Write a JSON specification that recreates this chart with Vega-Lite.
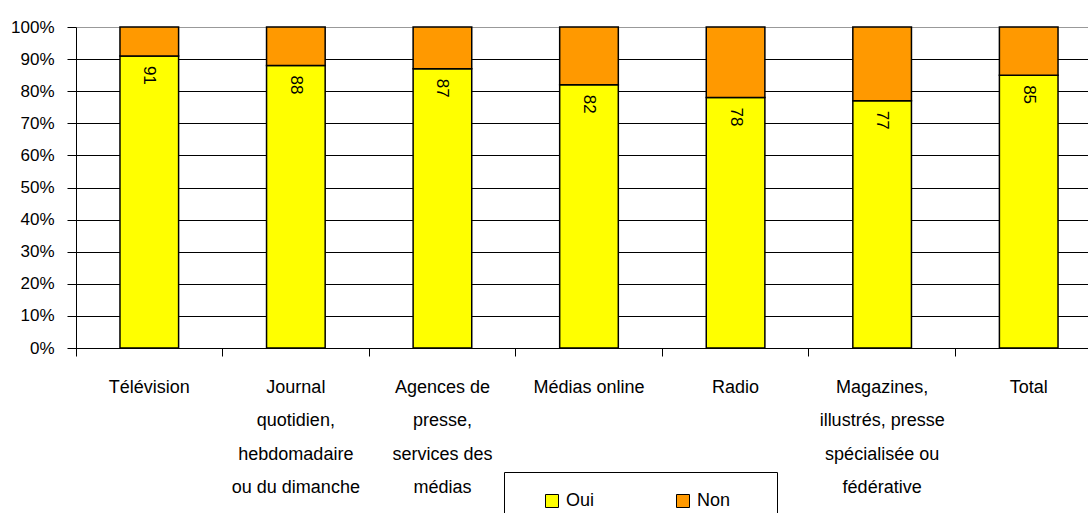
{
  "$schema": "https://vega.github.io/schema/vega-lite/v6.json",
  "width": 1011,
  "height": 321,
  "autosize": {"type": "none"},
  "padding": {"left": 76, "top": 27, "right": 1, "bottom": 165},
  "background": "white",
  "config": {"view": {"stroke": null}, "font": "Liberation Sans"},
  "data": {
    "values": [
      {"cat": "Télévision", "reponse": "Oui", "value": 91},
      {"cat": "Télévision", "reponse": "Non", "value": 9},
      {"cat": "Journal|quotidien,|hebdomadaire|ou du dimanche", "reponse": "Oui", "value": 88},
      {"cat": "Journal|quotidien,|hebdomadaire|ou du dimanche", "reponse": "Non", "value": 12},
      {"cat": "Agences de|presse,|services des|médias", "reponse": "Oui", "value": 87},
      {"cat": "Agences de|presse,|services des|médias", "reponse": "Non", "value": 13},
      {"cat": "Médias online", "reponse": "Oui", "value": 82},
      {"cat": "Médias online", "reponse": "Non", "value": 18},
      {"cat": "Radio", "reponse": "Oui", "value": 78},
      {"cat": "Radio", "reponse": "Non", "value": 22},
      {"cat": "Magazines,|illustrés, presse|spécialisée ou|fédérative", "reponse": "Oui", "value": 77},
      {"cat": "Magazines,|illustrés, presse|spécialisée ou|fédérative", "reponse": "Non", "value": 23},
      {"cat": "Total", "reponse": "Oui", "value": 85},
      {"cat": "Total", "reponse": "Non", "value": 15}
    ]
  },
  "encoding": {
    "x": {
      "field": "cat", "type": "nominal", "sort": null,
      "scale": {"range": [0, 1026], "paddingInner": 0, "paddingOuter": 0},
      "axis": {
        "title": null, "labelAngle": 0, "labelExpr": "split(datum.label, '|')",
        "labelFontSize": 18, "labelLineHeight": 33.5, "labelPadding": 22,
        "labelColor": "black", "bandPosition": 0,
        "tickSize": 8, "tickColor": "black", "domainColor": "black", "labelLimit": 200
      }
    },
    "y": {
      "field": "value", "type": "quantitative", "stack": "zero",
      "scale": {"domain": [0, 100]},
      "axis": {
        "title": null, "values": [0, 10, 20, 30, 40, 50, 60, 70, 80, 90, 100],
        "labelOverlap": false,
        "labelExpr": "datum.value + '%'", "labelFontSize": 17, "labelPadding": 13,
        "labelColor": "black", "tickSize": 9, "tickColor": "black", "domainColor": "black",
        "gridColor": {"condition": {"test": "datum.value == 100", "value": "#999999"}, "value": "#000000"}
      }
    }
  },
  "layer": [
    {
      "mark": {"type": "bar", "width": {"band": 0.4}, "stroke": "black", "strokeWidth": 1.5},
      "encoding": {
        "color": {
          "field": "reponse", "type": "nominal",
          "scale": {"domain": ["Oui", "Non"], "range": ["#FFFF00", "#FF9900"]},
          "legend": {
            "title": null,
            "orient": "none", "legendX": 428, "legendY": 445, "direction": "horizontal",
            "strokeColor": "black", "fillColor": "white", "padding": 20, "symbolOffset": 19,
            "symbolType": "square", "symbolSize": 169, "symbolStrokeColor": "black", "symbolStrokeWidth": 1,
            "labelFontSize": 18, "labelOffset": 5, "labelColor": "black", "columnPadding": 60,
            "labelExpr": "datum.label == 'Non' ? 'Non\u2800\u2800' : datum.label"
          }
        },
        "order": {"field": "reponse", "sort": "descending"}
      }
    },
    {
      "transform": [{"filter": "datum.reponse == 'Oui'"}],
      "mark": {"type": "text", "angle": 90, "align": "left", "baseline": "middle", "dx": 10, "fontSize": 17, "color": "black"},
      "encoding": {
        "text": {"field": "value", "type": "quantitative"}
      }
    }
  ]
}
